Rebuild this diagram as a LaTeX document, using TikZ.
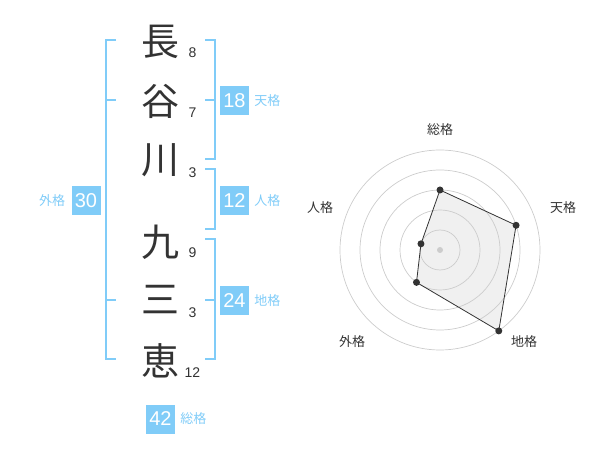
\documentclass[tikz,border=0pt]{standalone}
\usepackage{fontspec}
\setmainfont{Liberation Sans}
\newfontfamily\jp{Noto Sans CJK JP}
\usetikzlibrary{positioning}
\definecolor{kakublue}{HTML}{80CCF8}
\definecolor{inkgray}{HTML}{333333}

\begin{document}
\begin{tikzpicture}[
    x=1pt, y=-1pt,
    kanji/.style={font=\jp\fontsize{38}{38}\selectfont, text=inkgray, inner sep=0pt},
    strokes/.style={font=\fontsize{14}{14}\selectfont, text=inkgray, inner sep=0pt},
    scorebox/.style={rectangle, fill=kakublue, text=white, minimum width=29pt, minimum height=29pt, inner sep=0pt, font=\fontsize{20}{20}\selectfont},
    kaku/.style={font=\jp\fontsize{13}{13}\selectfont, text=kakublue, inner sep=0pt},
    bracket/.style={draw=kakublue, line width=2pt},
    ring/.style={draw=black!20, line width=0.7pt},
    axislabel/.style={font=\jp\fontsize{13}{13}\selectfont, text=inkgray},
    dot/.style={circle, fill=inkgray, inner sep=0pt, minimum size=7pt}
]
\useasboundingbox (0,0) rectangle (600,470);

% Left side: name and stroke counts
\node[kanji] (k1) at (160,42) {長};
\node[kanji] (k2) at (160,101) {谷};
\node[kanji] (k3) at (160,160) {川};
\node[kanji] (k4) at (160,242) {九};
\node[kanji] (k5) at (160,300) {三};
\node[kanji] (k6) at (160,361) {恵};

\node[strokes] (s1) at (192.5,53) {8};
\node[strokes] (s2) at (192.5,113) {7};
\node[strokes] (s3) at (192.5,173) {3};
\node[strokes] (s4) at (192.5,253) {9};
\node[strokes] (s5) at (192.5,313) {3};
\node[strokes] (s6) at (192.5,373) {12};

% Brackets
\draw[bracket] (116,40) -- (106,40) -- (106,359.5) -- (116,359.5);
\draw[bracket] (106,100) -- (116,100);
\draw[bracket] (106,300) -- (116,300);

\draw[bracket] (205,40) -- (215,40) -- (215,159.5) -- (205,159.5);
\draw[bracket] (215,100) -- (205,100);
\draw[bracket] (205,169.5) -- (215,169.5) -- (215,229.5) -- (205,229.5);
\draw[bracket] (205,239.5) -- (215,239.5) -- (215,359.5) -- (205,359.5);
\draw[bracket] (215,300) -- (205,300);

% Scores
\node[scorebox] (ten_box) at (234.5,100.5) {18};
\node[kaku, right=5pt of ten_box] (ten_lbl) {天格};
\node[scorebox] (jin_box) at (234.5,201) {12};
\node[kaku, right=5pt of jin_box] (jin_lbl) {人格};
\node[scorebox] (chi_box) at (234.5,300.5) {24};
\node[kaku, right=5pt of chi_box] (chi_lbl) {地格};
\node[scorebox] (gai_box) at (86,201) {30};
\node[kaku, left=6pt of gai_box] (gai_lbl) {外格};
\node[scorebox] (sou_box) at (160.5,419) {42};
\node[kaku, right=5pt of sou_box] (sou_lbl) {総格};

% Right side: radar chart
\coordinate (p_sou) at (440,190);
\coordinate (p_ten) at (516.08,225.28);
\coordinate (p_chi) at (498.78,330.90);
\coordinate (p_gai) at (416.49,282.36);
\coordinate (p_jin) at (420.98,243.82);

\fill[black!6] (p_sou) -- (p_ten) -- (p_chi) -- (p_gai) -- (p_jin) -- cycle;

\draw[ring] (440,250) circle (20);
\draw[ring] (440,250) circle (40);
\draw[ring] (440,250) circle (60);
\draw[ring] (440,250) circle (80);
\draw[ring] (440,250) circle (100);

\draw[draw=inkgray, line width=0.8pt] (p_sou) -- (p_ten) -- (p_chi) -- (p_gai) -- (p_jin) -- cycle;

\node[axislabel] (ax_sou) at (440,130) {総格};
\node[axislabel] (ax_ten) at (563,208) {天格};
\node[axislabel] (ax_jin) at (320,208) {人格};
\node[axislabel] (ax_gai) at (352,342) {外格};
\node[axislabel] (ax_chi) at (524,342) {地格};

\node[dot, fill=black!20, minimum size=6pt] (center) at (440,250) {};
\node[dot] (d_sou) at (p_sou) {};
\node[dot] (d_ten) at (p_ten) {};
\node[dot] (d_chi) at (p_chi) {};
\node[dot] (d_gai) at (p_gai) {};
\node[dot] (d_jin) at (p_jin) {};

\end{tikzpicture}
\end{document}
